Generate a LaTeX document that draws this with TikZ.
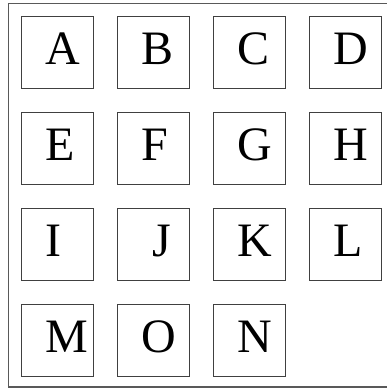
\documentclass[tikz,border=0pt]{standalone}
\usepackage{fontspec}
\setmainfont{Liberation Serif}
\begin{document}
\begin{tikzpicture}[x=1pt,y=-1pt,
  cell/.style={draw=black!75,line width=0.9pt,minimum width=72pt,minimum height=72pt,inner sep=0pt,anchor=north west},
  lbl/.style={anchor=base west,inner sep=0pt,font=\fontsize{48}{48}\selectfont}]
\clip (0,0) rectangle (387,388);
\draw[black!65,line width=1.2pt] (8.3,3.5) rectangle (420,387);
\foreach \t/\c/\r/\d in {A/0/0/0,B/1/0/0,C/2/0/0,D/3/0/0,E/0/1/0,F/1/1/0,G/2/1/0,H/3/1/0,I/0/2/0,J/1/2/11,K/2/2/0,L/3/2/0,M/0/3/0,O/1/3/0,N/2/3/0}{
  \node[cell] (box\t) at (21+96*\c,15.5+96*\r) {};
  \node[lbl] (t\t) at (21+96*\c+24+\d,15.5+96*\r+48.5) {\t};
}
\end{tikzpicture}
\end{document}
